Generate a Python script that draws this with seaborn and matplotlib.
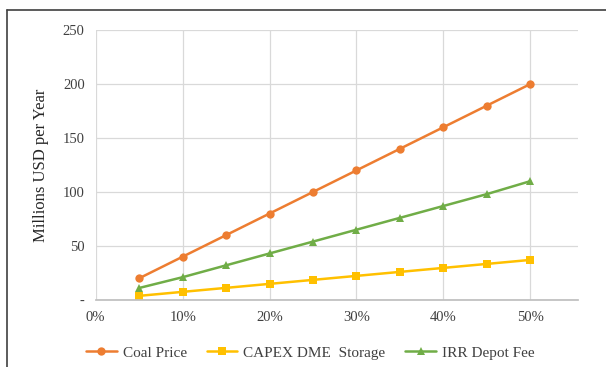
import numpy as np
import pandas as pd
import matplotlib
matplotlib.use('Agg')
import matplotlib.pyplot as plt
from matplotlib.lines import Line2D
from matplotlib.ticker import FuncFormatter
import seaborn as sns

# Data
share = [0.05, 0.10, 0.15, 0.20, 0.25, 0.30, 0.35, 0.40, 0.45, 0.50]
coal_price = [20, 40, 60, 80, 100, 120, 140, 160, 180, 200]
capex_dme = [3.7, 7.4, 11.1, 14.8, 18.5, 22.2, 25.9, 29.6, 33.3, 37.0]
irr_depot = [11, 21, 32, 43, 54, 65, 76, 87, 98, 110]
series_names = ['Coal Price', 'CAPEX DME  Storage', 'IRR Depot Fee']

df = pd.DataFrame({
    'share': share * 3,
    'value': coal_price + capex_dme + irr_depot,
    'series': np.repeat(series_names, len(share)),
})

sns.set_theme(style='white')
plt.rcParams['font.family'] = ['Liberation Serif', 'DejaVu Serif']

fig, ax = plt.subplots(figsize=(6.06, 3.67), dpi=100)
fig.subplots_adjust(left=0.158, right=0.954, top=0.918, bottom=0.183)

palette = {'Coal Price': '#ED7D31', 'CAPEX DME  Storage': '#FFC000', 'IRR Depot Fee': '#70AD47'}
markers = {'Coal Price': 'o', 'CAPEX DME  Storage': 's', 'IRR Depot Fee': '^'}
sns.lineplot(data=df, x='share', y='value', hue='series', style='series',
             palette=palette, markers=markers, dashes=False, linewidth=1.8,
             markersize=6, markeredgewidth=0, ax=ax)

ax.set_xlim(0, 0.555)
ax.set_ylim(0, 250)
ax.set_xticks([0, 0.1, 0.2, 0.3, 0.4, 0.5])
ax.set_yticks([0, 50, 100, 150, 200, 250])
ax.xaxis.set_major_formatter(FuncFormatter(lambda v, p: f'{v*100:.0f}%'))
ax.yaxis.set_major_formatter(FuncFormatter(lambda v, p: '-' if v == 0 else f'{v:.0f}'))
ax.grid(True, color='#d9d9d9', linewidth=0.9)
for side in ['top', 'right', 'left']:
    ax.spines[side].set_visible(False)
ax.spines['bottom'].set_color('#bfbfbf')
ax.tick_params(axis='both', labelsize=10.5, colors='#404040', length=0, pad=8)
ax.set_xlabel('')
ax.set_ylabel('Millions USD per Year', fontsize=12, color='#262626', labelpad=10)

handles, labels = ax.get_legend_handles_labels()
ax.legend(handles, labels, loc='upper center', bbox_to_anchor=(0.445, -0.12),
          ncol=3, frameon=False, fontsize=11, handlelength=2.0, columnspacing=1.3,
          handletextpad=0.4, labelcolor='#404040')

# outer frame lines (left and top)
fig.add_artist(Line2D([0.012, 0.012], [0, 0.973], color='#404040', linewidth=1.2))
fig.add_artist(Line2D([0.012, 1], [0.973, 0.973], color='#404040', linewidth=1.2))

fig.savefig('out.png', dpi=100)
